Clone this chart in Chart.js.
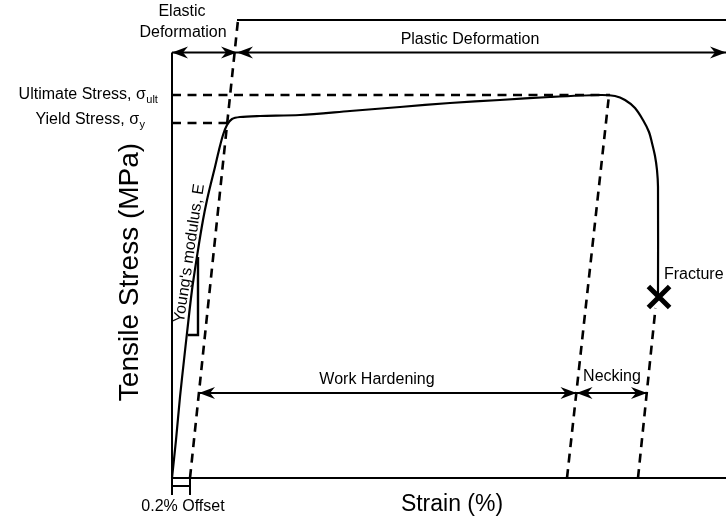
<!DOCTYPE html>
<html><head><meta charset="utf-8">
<script src="https://cdn.jsdelivr.net/npm/chart.js@4.4.1/dist/chart.umd.min.js"></script>
<style>html,body{margin:0;padding:0;background:#fff}#wrap{width:726px;height:525px}</style>
</head><body><div id="wrap"><canvas id="c" width="726" height="525"></canvas></div>
<script>
// ---- data (strain units, stress units; schematic) ----
const curveStrain = [0,0.4,0.8,1.2,1.5,2.0,2.6,3.1,3.5,3.9,4.3,4.7,5.1,5.5,6.0,6.8,8.8,12.8,17.8,22.8,27.8,32.8,37.8,42.8,44.3,45.3,46.3,47.1,47.7,48.0,48.3,48.5,48.6,48.6];
const curveStress = [0,3.8,8.1,11.8,14.5,18.8,22.8,25.8,27.8,29.5,31.1,32.8,34.3,35.3,35.9,36.1,36.2,36.3,36.7,37.1,37.5,37.8,38.1,38.3,38.2,37.8,37.0,35.8,34.6,33.5,32.2,30.8,29.1,18.1];
const fracturePoint = [48.7, 18.1];
const ultimateStress = 38.3;
const yieldStress = 35.5;
const offsetLineX = [1.8, 6.6], offsetLineY = [0, 45.8];
const neckLineX = [39.5, 43.7], neckLineY = [0, 38.3];
const fracLineX = [46.6, 48.35], fracLineY = [0, 17.0];
const ultimateEndX = 43.8, yieldEndX = 5.8;
const strainMax = 55.4, stressMax = 46;
const axisTopStress = 42.55;
const regionRowStress = 42.55;     // Elastic / Plastic arrows
const regionBounds = [0, 6.5, 55.4];
const regionTopStress = 45.8;
const phaseRowStress = 8.5;        // Work hardening / Necking arrows
const phaseBounds = [2.7, 40.45, 47.5];
const youngTriX = [1.6, 2.6, 2.6], youngTriY = [14.3, 14.3, 22.1];
const offsetBracketX = [0, 1.8], offsetBracketY = [-1.7, -0.8];

const pts = (xs, ys) => xs.map((x, i) => ({x, y: ys[i]}));
function seg(xs, ys, opts) {
  return Object.assign({data: pts(xs, ys), showLine: true, borderColor: '#000', borderWidth: 2,
    pointRadius: 0, tension: 0, clip: false, fill: false}, opts || {});
}
const dash = {borderDash: [9, 6.5], borderWidth: 2.6};

const datasets = [
  seg(curveStrain, curveStress, {tension: 0.3, borderWidth: 2.2}),
  seg(offsetLineX, offsetLineY, dash),
  seg(neckLineX, neckLineY, dash),
  seg(fracLineX, fracLineY, dash),
  seg([0, ultimateEndX], [ultimateStress, ultimateStress], dash),
  seg([0, yieldEndX], [yieldStress, yieldStress], dash),
  seg([0, 0], [0, axisTopStress]),
  seg([0, strainMax], [0, 0]),
  seg([regionBounds[1], regionBounds[2]], [regionTopStress, regionTopStress]),
  seg([regionBounds[0], regionBounds[2]], [regionRowStress, regionRowStress]),
  seg([phaseBounds[0], phaseBounds[2]], [phaseRowStress, phaseRowStress]),
  seg(youngTriX, youngTriY, {borderWidth: 2.4}),
  seg([offsetBracketX[0], offsetBracketX[0]], [0, offsetBracketY[0]]),
  seg([offsetBracketX[1], offsetBracketX[1]], [0, offsetBracketY[0]]),
  seg(offsetBracketX, [offsetBracketY[1], offsetBracketY[1]]),
  {data: [{x: fracturePoint[0], y: fracturePoint[1]}], showLine: false, pointStyle: 'crossRot',
   pointRadius: 15, borderColor: '#000', borderWidth: 5, clip: false}
];

const FONT = "'Liberation Sans', Arial, sans-serif";
function subText(ctx, main, sub, cx, cy, size) {
  ctx.font = size + 'px ' + FONT;
  const w1 = ctx.measureText(main).width;
  ctx.font = Math.round(size * 0.68) + 'px ' + FONT;
  const w2 = ctx.measureText(sub).width;
  const x0 = cx - (w1 + w2) / 2;
  ctx.textAlign = 'left'; ctx.textBaseline = 'middle';
  ctx.font = size + 'px ' + FONT;
  ctx.fillText(main, x0, cy);
  ctx.font = Math.round(size * 0.68) + 'px ' + FONT;
  ctx.fillText(sub, x0 + w1 + 0.5, cy + 5);
}
function head(ctx, tx, ty, dir) {
  const L = 16, W = 6, N = 11;
  ctx.beginPath();
  ctx.moveTo(tx, ty);
  ctx.lineTo(tx - dir * L, ty - W);
  ctx.lineTo(tx - dir * N, ty);
  ctx.lineTo(tx - dir * L, ty + W);
  ctx.closePath();
  ctx.fill();
}
const annot = {
  id: 'annot',
  afterDatasetsDraw(chart) {
    const ctx = chart.ctx, xs = chart.scales.x, ys = chart.scales.y;
    const X = v => xs.getPixelForValue(v), Y = v => ys.getPixelForValue(v);
    ctx.save();
    ctx.fillStyle = '#000';
    const rowArrows = (bounds, yv) => {
      const y = Y(yv);
      for (let i = 0; i < bounds.length - 1; i++) {
        head(ctx, X(bounds[i]), y, -1);
        head(ctx, X(bounds[i + 1]), y, 1);
      }
    };
    rowArrows(regionBounds, regionRowStress);
    rowArrows(phaseBounds, phaseRowStress);
    ctx.textAlign = 'center'; ctx.textBaseline = 'middle';
    ctx.font = '16px ' + FONT;
    ctx.fillText('Elastic', 182, 12);
    ctx.fillText('Deformation', 183, 33);
    ctx.fillText('Plastic Deformation', 470, 40);
    ctx.fillText('Work Hardening', 377, 380);
    ctx.fillText('Necking', 612, 377);
    ctx.fillText('0.2% Offset', 183, 507);
    ctx.textAlign = 'left';
    ctx.fillText('Fracture', 664, 275);
    subText(ctx, 'Ultimate Stress, σ', 'ult', 88, 95, 16);
    subText(ctx, 'Yield Stress, σ', 'y', 90, 120, 16);
    ctx.textAlign = 'center';
    ctx.font = '23px ' + FONT;
    ctx.fillText('Strain (%)', 452, 505);
    ctx.save();
    ctx.translate(130, 272);
    ctx.rotate(-Math.PI / 2);
    ctx.font = '28px ' + FONT;
    ctx.fillText('Tensile Stress (MPa)', 0, 0);
    ctx.restore();
    ctx.save();
    ctx.translate(189.5, 253.5);
    ctx.rotate(-81.7 * Math.PI / 180);
    ctx.font = '16px ' + FONT;
    ctx.fillText("Young's modulus, E", 0, 0);
    ctx.restore();
    ctx.restore();
  }
};

new Chart(document.getElementById('c'), {
  type: 'scatter',
  data: {datasets},
  options: {
    responsive: false, animation: false,
    layout: {autoPadding: false, padding: {left: 172, right: 0, top: 18, bottom: 47}},
    plugins: {legend: {display: false}, tooltip: {enabled: false}},
    scales: {
      x: {type: 'linear', min: 0, max: strainMax, display: false},
      y: {type: 'linear', min: 0, max: stressMax, display: false}
    }
  },
  plugins: [annot]
});
</script></body></html>
